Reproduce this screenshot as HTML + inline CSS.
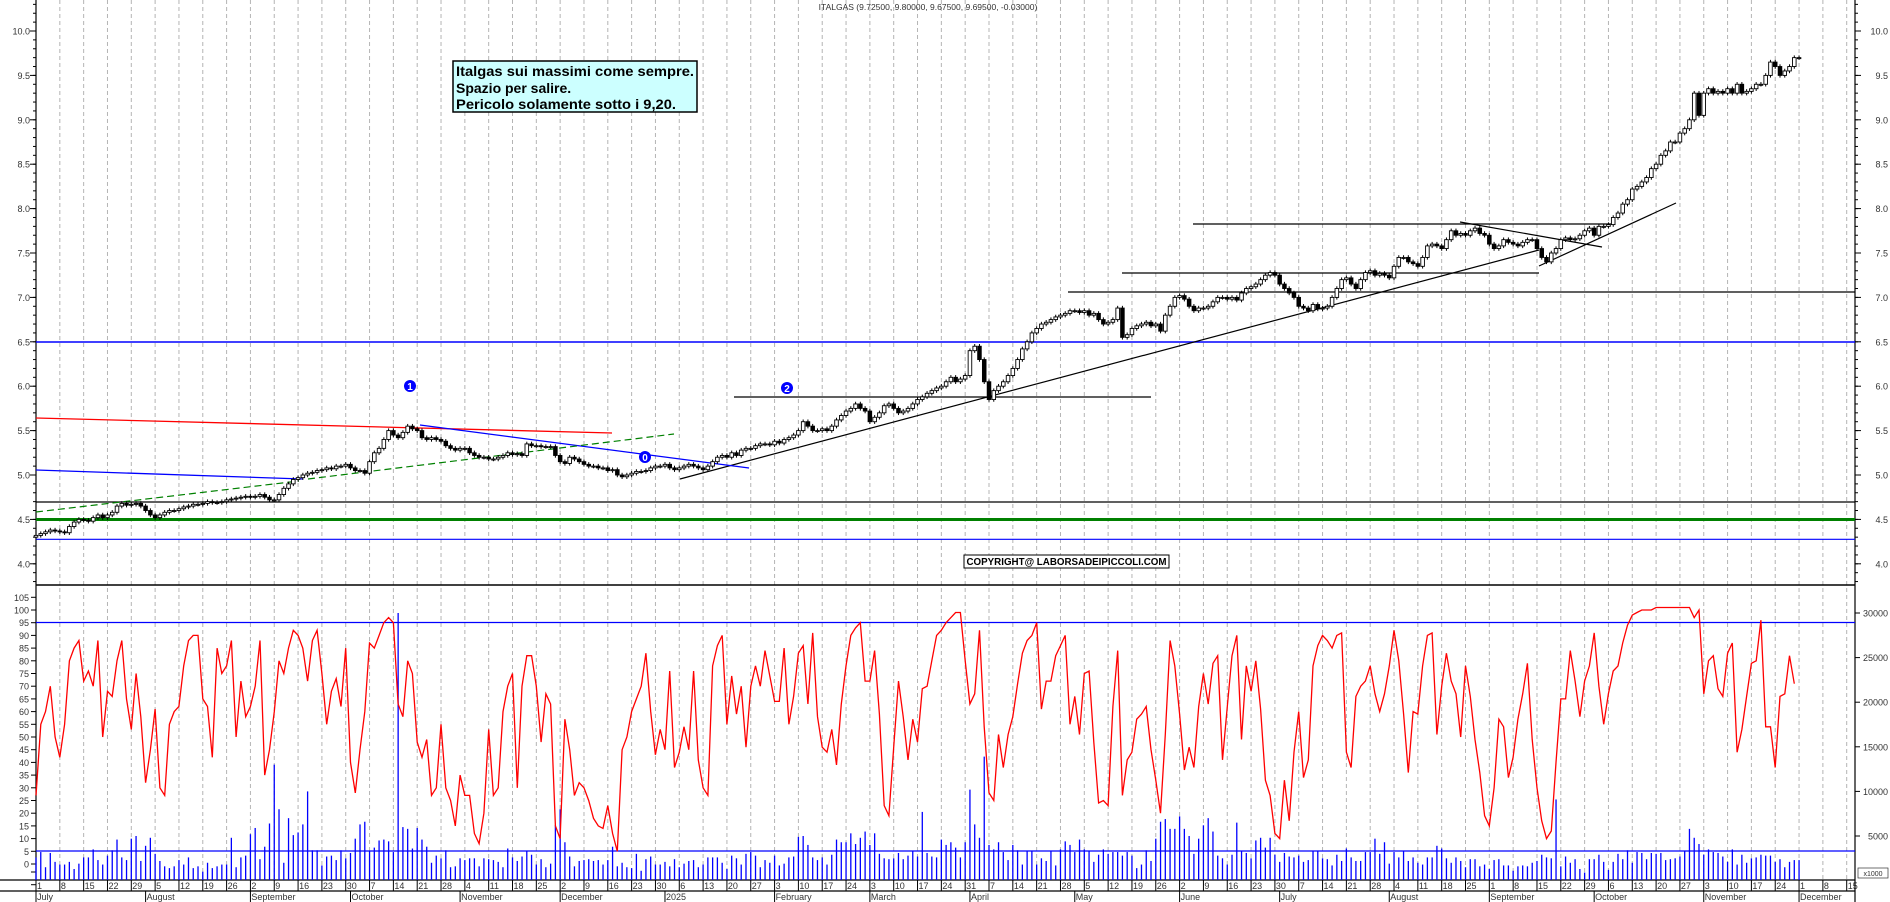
<!DOCTYPE html>
<html><head><meta charset="utf-8"><style>
html,body{margin:0;padding:0;background:#fff;}
svg{display:block;font-family:"Liberation Sans",sans-serif;}
</style></head><body>
<svg id="chart" width="1890" height="902" viewBox="0 0 1890 902" xmlns="http://www.w3.org/2000/svg">
<rect x="0" y="0" width="1890" height="902" fill="#fff"/>
<g id="grid"></g>
<g id="axes"></g>
<g id="annot">
  <line x1="36" y1="342" x2="1855" y2="342" stroke="#0000ff" stroke-width="1.5"/>
  <line x1="36" y1="502" x2="1855" y2="502" stroke="#000" stroke-width="1.2"/>
  <line x1="36" y1="519.5" x2="1855" y2="519.5" stroke="#008000" stroke-width="3"/>
  <line x1="36" y1="539.3" x2="1855" y2="539.3" stroke="#0000ff" stroke-width="1.2"/>
  <line x1="1068" y1="292" x2="1855" y2="292" stroke="#000" stroke-width="1.2"/>
  <line x1="1122" y1="273" x2="1539" y2="273" stroke="#000" stroke-width="1.2"/>
  <line x1="1193" y1="224" x2="1611" y2="224" stroke="#000" stroke-width="1.2"/>
  <line x1="734" y1="397" x2="1151" y2="397" stroke="#000" stroke-width="1.2"/>
  <line x1="680" y1="479" x2="1539" y2="250" stroke="#000" stroke-width="1.2"/>
  <line x1="1539" y1="266" x2="1676" y2="203" stroke="#000" stroke-width="1.2"/>
  <line x1="1460" y1="222" x2="1602" y2="247" stroke="#000" stroke-width="1.2"/>
  <line x1="36" y1="418" x2="612" y2="433" stroke="#ff0000" stroke-width="1.3"/>
  <line x1="36" y1="470" x2="303" y2="479" stroke="#0000ff" stroke-width="1.3"/>
  <line x1="420" y1="425" x2="749" y2="468" stroke="#0000ff" stroke-width="1.3"/>
  <line x1="308" y1="479" x2="674" y2="434" stroke="#008000" stroke-width="1.2" stroke-dasharray="7,4"/>
  <line x1="36" y1="512" x2="299" y2="481" stroke="#008000" stroke-width="1.2" stroke-dasharray="7,4"/>
  <g><circle cx="410" cy="386" r="6" fill="#0000ff"/><text x="410" y="390" font-size="10" font-weight="bold" fill="#fff" text-anchor="middle">1</text></g>
  <g><circle cx="645" cy="457" r="6" fill="#0000ff"/><text x="645" y="461" font-size="10" font-weight="bold" fill="#fff" text-anchor="middle">0</text></g>
  <g><circle cx="787" cy="388" r="6" fill="#0000ff"/><text x="787" y="392" font-size="10" font-weight="bold" fill="#fff" text-anchor="middle">2</text></g>
  <line x1="36" y1="622.5" x2="1855" y2="622.5" stroke="#0000ff" stroke-width="1.3"/>
  <line x1="36" y1="851" x2="1855" y2="851" stroke="#0000ff" stroke-width="1.3"/>
</g>
<g id="vol"></g>
<g id="osc"></g>
<g id="candles"></g>
<g>
  <rect x="453" y="61" width="244" height="51" fill="#ccffff" stroke="#000" stroke-width="1.5"/>
  <text x="456" y="76" font-size="14" font-weight="bold" textLength="238" lengthAdjust="spacingAndGlyphs">Italgas sui massimi come sempre.</text>
  <text x="456" y="93" font-size="14" font-weight="bold">Spazio per salire.</text>
  <text x="456" y="109" font-size="14" font-weight="bold" textLength="220" lengthAdjust="spacingAndGlyphs">Pericolo solamente sotto i 9,20.</text>
</g>
<g>
  <rect x="964" y="555" width="205" height="13" fill="#fff" stroke="#000" stroke-width="1"/>
  <text x="966.5" y="565" font-size="10" font-weight="bold" textLength="200" lengthAdjust="spacingAndGlyphs">COPYRIGHT@ LABORSADEIPICCOLI.COM</text>
</g>
<text x="928" y="10" font-size="8.5" fill="#333" text-anchor="middle">ITALGAS (9.72500, 9.80000, 9.67500, 9.69500, -0.03000)</text>
<g><rect x="1858" y="868" width="30" height="10" fill="#fff" stroke="#333" stroke-width="0.7"/><text x="1873" y="876" font-size="7" text-anchor="middle" fill="#333">x1000</text></g>
</svg>
<script>
// ---- data ----
const closes2024 = [
4.32,4.34,4.36,4.38,4.37, 4.36,4.35,4.42,4.47,4.50, 4.49,4.48,4.52,4.55,4.52, 4.55,4.58,4.65,4.68,4.66,
4.67,4.68,4.65,4.60,4.55, 4.52,4.55,4.58,4.60,4.60, 4.62,4.64,4.65,4.67,4.67, 4.68,4.70,4.69,4.69,4.70,
4.72,4.73,4.74,4.75,4.76, 4.75,4.76,4.78,4.75,4.72, 4.72,4.78,4.85,4.90,4.95, 4.97,5.00,5.02,5.03,5.05,
5.06,5.08,5.07,5.10,5.10, 5.12,5.08,5.05,5.05,5.02, 5.15,5.25,5.30,5.40,5.50, 5.45,5.42,5.48,5.55,5.52,
5.50,5.42,5.40,5.42,5.40, 5.38,5.33,5.30,5.28,5.30, 5.30,5.25,5.22,5.20,5.20, 5.18,5.18,5.20,5.22,5.25,
5.23,5.24,5.22,5.35,5.33, 5.33,5.32,5.32,5.32,5.22, 5.15,5.13,5.20,5.18,5.15, 5.12,5.10,5.10,5.08,5.08,
5.05,5.06,5.00,4.98,5.00, 5.02,5.04,5.04,5.05,5.08, 5.10,5.10,5.12,5.08,5.06];
const closes2025a = [
5.08,5.10,5.12,5.10,5.08, 5.06,5.10,5.15,5.20,5.22, 5.20,5.25,5.22,5.28,5.30, 5.30,5.33,5.35,5.35,5.34,
5.38,5.36,5.40,5.42,5.45, 5.50,5.60,5.55,5.50,5.50, 5.52,5.50,5.55,5.62,5.67, 5.72,5.75,5.80,5.75,5.72,
5.60,5.65,5.70,5.78,5.80, 5.75,5.70,5.72,5.75,5.80, 5.85,5.88,5.92,5.95,5.98, 6.00,6.05,6.10,6.05,6.08,
6.12,6.40,6.45,6.30,6.05, 5.85,5.95,6.00,6.05,6.12, 6.20,6.30,6.42,6.50,6.60, 6.65,6.70,6.72,6.75,6.78,
6.80,6.82,6.85,6.85,6.83, 6.85,6.80,6.82,6.75,6.70, 6.72,6.75,6.88,6.55,6.58, 6.65,6.68,6.70,6.72,6.68,
6.70,6.62,6.80,6.90,7.00, 7.02,6.98,6.90,6.85,6.88, 6.88,6.90,6.95,7.00,7.00, 6.98,7.00,6.97,7.05,7.10,
7.12,7.15,7.20,7.25,7.28, 7.25,7.15,7.10,7.05,7.00];
const closes2025b = [
6.90,6.88,6.85,6.92,6.87, 6.88,6.90,7.00,7.10,7.20, 7.22,7.15,7.10,7.20,7.28, 7.30,7.25,7.27,7.25,7.22,
7.35,7.45,7.45,7.40,7.38, 7.35,7.45,7.58,7.60,7.58, 7.55,7.65,7.75,7.70,7.72, 7.70,7.75,7.78,7.72,7.70,
7.60,7.55,7.58,7.65,7.62, 7.60,7.58,7.62,7.65,7.65, 7.55,7.45,7.40,7.50,7.55, 7.65,7.67,7.65,7.66,7.70,
7.75,7.78,7.70,7.80,7.80, 7.82,7.90,7.95,8.05,8.10, 8.22,8.25,8.30,8.35,8.45, 8.50,8.60,8.65,8.75,8.75,
8.85,8.90,9.00,9.30,9.05, 9.30,9.35,9.30,9.32,9.30, 9.35,9.30,9.40,9.30,9.32, 9.35,9.40,9.40,9.50,9.65,
9.60,9.50,9.55,9.60,9.70, 9.70];
const osc2024 = [
27,55,60,70,50, 42,55,80,85,88, 72,76,70,88,50, 68,66,80,88,65, 53,75,58,32,45, 61,30,27,55,60,
62,78,88,90,90, 65,62,42,85,75, 78,88,50,72,58, 62,70,88,35,45, 60,80,75,85,92, 90,85,72,88,92,
75,55,68,73,62, 85,40,28,45,60, 87,85,90,95,97, 95,63,58,80,75, 48,42,49,27,30, 55,30,25,15,35,
27,27,12,8,20, 53,27,30,60,70, 75,30,70,82,82, 70,48,67,63,15, 10,57,45,27,32, 30,25,18,15,14,
23,12,5,45,50, 60,65,70,83,60, 43,53,45,76,38];
const osc2025a = [
44,54,45,76,41,30,27,78,86,90, 55,74,59,70,46,70,78,70,84,74, 64,64,85,55,66,83,86,63,91,58,
46,44,53,39,63,78,90,93,95,72, 72,84,59,23,19,46,72,58,41,57, 48,69,70,80,90,92,95,97,99,99,
80,63,67,92,54,28,25,51,38,51, 58,71,83,88,90,95,61,72,72,82, 86,90,55,66,51,75,76,48,24,25,
23,62,84,27,41,44,57,59,62,45, 33,20,51,88,78,59,37,46,38,62, 75,63,79,82,41,62,82,90,49,78,
68,80,61,33,27,12,10,33,17,44, 60,34,41,78,86,90,88,85,90];
const osc2025b = [
91,44,38,66,70,72,78,67,60,67, 78,92,80,59,36,60,59,78,90,91, 51,70,83,72,67,50,78,66,49,36,
19,15,30,57,54,34,42,57,67,79,49, 30,17,10,13,40,65,65,84,72,58,72,78, 91,70,55,67,76,78,87,94,98,99,100,
100,100,101,101,101,101,101,101,101,101, 97,100,67,80,82,69,66,83,87,44, 53,66,79,80,96,54,54,38,66,67,82,71];
const vol2024 = [
2.6,3.2,1.5,3.1,2.1, 1.8,1.8,2.1,1.3,1.9, 2.6,2.6,3.5,2.3,1.8, 2.8,3.4,4.6,2.6,2.3, 4.7,5.0,2.2,3.9,4.8,
3.0,2.2,1.6,1.4,1.6, 2.3,1.8,2.6,1.4,1.6, 1.0,2.0,1.4,1.6,1.8, 1.8,4.8,1.5,2.6,2.8, 5.2,5.9,2.4,3.8,6.4,
13.0,8.0,2.0,7.0,5.1, 5.4,6.3,10.0,3.4,3.4, 1.7,2.7,2.8,2.3,3.4, 2.5,3.1,4.7,6.3,6.6, 3.3,3.7,4.5,4.6,4.4,
3.2,30.0,6.0,5.8,3.6, 5.9,4.6,3.8,2.0,2.8, 2.5,3.4,1.5,1.6,2.5, 2.3,2.5,2.5,1.6,2.5, 2.4,2.3,2.1,1.5,3.6,
2.6,2.2,2.7,3.3,2.9, 1.8,2.4,1.5,1.9,6.2, 8.0,4.3,2.7,1.6,2.2, 2.3,2.4,2.2,2.3,1.8, 2.3,3.8,1.6,2.0,1.5,
1.4,3.0,1.1,2.4,2.7, 1.8,1.8,2.1,1.6,2.4];
const vol2025a = [
1.5,1.9,2.2,2.3,1.5, 1.8,2.6,2.6,2.6,2.0, 1.3,2.8,2.5,1.8,3.0, 3.2,2.8,1.5,2.3,2.0, 2.8,1.7,1.9,2.6,2.7,
4.9,5.0,4.0,2.6,2.3, 2.6,1.8,2.9,4.6,4.3, 4.3,5.3,4.1,4.8,5.5, 4.0,5.3,3.0,2.5,2.4, 2.5,3.1,2.4,2.8,3.3,
2.7,7.7,3.1,2.7,2.6, 4.6,4.0,4.3,3.7,2.6, 4.3,10.2,6.3,4.8,13.9, 4.0,3.5,4.3,3.2,2.3, 4.0,3.4,1.8,3.3,3.3,
1.8,2.5,2.2,3.3,1.7, 3.5,4.4,4.0,3.2,4.6, 3.5,3.3,2.1,2.9,3.5, 3.0,3.2,3.2,2.8,3.2, 2.8,1.4,1.8,3.4,2.2,
4.7,6.6,6.9,5.8,5.8, 7.2,5.8,5.0,3.0,4.7, 6.2,7.0,5.5,2.8,2.5, 1.8,2.9,6.5,3.3,3.1, 2.5,4.5,4.8,3.7,4.8,
2.9,2.1,3.1,2.7,2.6, 2.8,2.1,2.3,3.3,3.3];
const vol2025b = [
2.5,2.4,1.7,2.9,2.2, 3.6,2.6,2.2,2.2,3.2, 3.2,4.7,3.0,4.3,1.9, 3.2,2.6,3.3,2.2,2.6, 2.0,1.8,2.6,2.6,3.9,
3.6,2.5,2.0,2.6,2.2, 1.5,2.4,2.4,1.6,1.8, 1.3,2.3,2.4,1.7,1.7, 1.1,1.6,1.7,1.6,2.0, 2.2,2.9,2.6,2.5,9.1,
1.6,2.7,2.0,2.4,1.3, 0.9,2.4,2.4,2.9,2.1, 1.2,2.1,3.0,2.4,3.4, 2.0,3.2,3.1,2.4,3.1, 3.0,3.1,2.3,2.4,2.5,
2.7,3.3,5.8,4.8,4.1, 2.9,3.5,3.2,3.1,2.7, 2.1,3.5,1.8,2.9,2.0, 2.5,2.6,2.9,2.8,2.8, 2.1,2.4,1.5,2.1,2.3, 2.3];
const priceTicks = [4.0,4.5,5.0,5.5,6.0,6.5,7.0,7.5,8.0,8.5,9.0,9.5,10.0];
const oscTicks = [0,5,10,15,20,25,30,35,40,45,50,55,60,65,70,75,80,85,90,95,100,105];
const volTicks = [5000,10000,15000,20000,25000,30000];

// ---- axis functions ----
const X0 = 36, DX = 4.765, PL = 36, PR = 1855;
const xAt = i => X0 + i * DX;
const yPrice = p => 31 + (10 - p) * 88.8;
const yOsc = v => 864 - v * 2.54;
const yVol = v => 880.6 - v * 8.92;
const NS = 'http://www.w3.org/2000/svg';
function mk(tag, attrs, parent) {
  const e = document.createElementNS(NS, tag);
  for (const k in attrs) e.setAttribute(k, attrs[k]);
  parent.appendChild(e); return e;
}
const closes = closes2024.concat(closes2025a, closes2025b);
const osc = osc2024.concat(osc2025a, osc2025b);
const vol = vol2024.concat(vol2025a, vol2025b);
const gGrid = document.getElementById('grid'), gAx = document.getElementById('axes');
const gC = document.getElementById('candles'), gO = document.getElementById('osc'), gV = document.getElementById('vol');

const months = ['January','February','March','April','May','June','July','August','September','October','November','December'];
let d = new Date(2024, 6, 1), idx = 0, lastMonth = -1;
while (true) {
  const wd = d.getDay();
  if (wd !== 0 && wd !== 6) {
    const x = xAt(idx);
    if (x > PR) break;
    if (wd === 1) {
      const gl = mk('line', {x1:x, y1:0, x2:x, y2:880, stroke:'#b4b4b4', 'stroke-width':1, 'stroke-dasharray':'4,3'}, gGrid);
      
      
      const t = mk('text', {x:x+1, y:889, 'font-size':9, fill:'#333'}, gAx);
      t.textContent = d.getDate();
      
      
      mk('line', {x1:x, y1:880, x2:x, y2:891, stroke:'#000', 'stroke-width':1}, gAx);
    }
    if (d.getMonth() !== lastMonth) {
      lastMonth = d.getMonth();
      mk('line', {x1:x, y1:891, x2:x, y2:902, stroke:'#000', 'stroke-width':1}, gAx);
      const t = mk('text', {x:x+1, y:900, 'font-size':9, fill:'#333'}, gAx);
      t.textContent = (d.getMonth() === 0) ? String(d.getFullYear()) : months[d.getMonth()];
      
      
    }
    idx++;
  }
  d.setDate(d.getDate() + 1);
}

mk('line', {x1:PL, y1:0, x2:PL, y2:880, stroke:'#000', 'stroke-width':1.2}, gAx);
mk('line', {x1:PR, y1:0, x2:PR, y2:902, stroke:'#000', 'stroke-width':1.2}, gAx);
mk('line', {x1:PL, y1:585, x2:PR, y2:585, stroke:'#000', 'stroke-width':1.5}, gAx);
mk('line', {x1:0, y1:880, x2:PR, y2:880, stroke:'#000', 'stroke-width':1.2}, gAx);
mk('line', {x1:0, y1:891, x2:PR, y2:891, stroke:'#000', 'stroke-width':1.2}, gAx);

for (let p = 3.8; p <= 10.3; p += 0.1) {
  const y = yPrice(p);
  if (y < 2 || y > 583) continue;
  mk('line', {x1:PL-3, y1:y, x2:PL, y2:y, stroke:'#000'}, gAx);
  mk('line', {x1:PR, y1:y, x2:PR+3, y2:y, stroke:'#000'}, gAx);
}
priceTicks.forEach(p => {
  const y = yPrice(p);
  mk('line', {x1:PL-6, y1:y, x2:PL, y2:y, stroke:'#000'}, gAx);
  mk('line', {x1:PR, y1:y, x2:PR+6, y2:y, stroke:'#000'}, gAx);
  const t = mk('text', {x:PL-6, y:y+3.5, 'font-size':9, fill:'#333', 'text-anchor':'end'}, gAx);
  t.textContent = p.toFixed(1);
  
  
  const t2 = mk('text', {x:PR+33, y:y+3.5, 'font-size':9, fill:'#333', 'text-anchor':'end'}, gAx);
  t2.textContent = p.toFixed(1);
  
  
});
oscTicks.forEach(v => {
  const y = yOsc(v);
  mk('line', {x1:PL-5, y1:y, x2:PL, y2:y, stroke:'#000'}, gAx);
  const t = mk('text', {x:PL-7, y:y+3.5, 'font-size':9, fill:'#333', 'text-anchor':'end'}, gAx);
  t.textContent = v;
  
  
});
[0,-5].forEach(v => { const y = yOsc(v) + 8; mk('line', {x1:PL-5, y1:y, x2:PL, y2:y, stroke:'#000'}, gAx); });
volTicks.forEach(v => {
  const y = yVol(v / 1000);
  mk('line', {x1:PR, y1:y, x2:PR+5, y2:y, stroke:'#000'}, gAx);
  const t = mk('text', {x:PR+33, y:y+3.5, 'font-size':9, fill:'#333', 'text-anchor':'end'}, gAx);
  t.textContent = v;
  
  
});

vol.forEach((v, i) => {
  const x = xAt(i);
  const b = mk('line', {x1:x, y1:880, x2:x, y2:yVol(v), stroke:'#0000ff', 'stroke-width':1.3}, gV);
  
  
});
const pts = osc.map((v, i) => xAt(i).toFixed(1) + ',' + yOsc(v).toFixed(1)).join(' ');
const pl = mk('polyline', {points:pts, fill:'none', stroke:'#ff0000', 'stroke-width':1.3}, gO);



closes.forEach((c, i) => {
  const o = i === 0 ? c - 0.02 : closes[i - 1];
  const hi = Math.max(o, c) + 0.025, lo = Math.min(o, c) - 0.025;
  const x = xAt(i);
  const g = mk('g', {}, gC);
  
  
  mk('line', {x1:x, y1:yPrice(hi), x2:x, y2:yPrice(lo), stroke:'#000', 'stroke-width':1}, g);
  const top = yPrice(Math.max(o, c)), h = Math.max(1, yPrice(Math.min(o, c)) - top);
  mk('rect', {x:x-1.8, y:top, width:3.6, height:h, fill: c >= o ? '#fff' : '#000', stroke:'#000', 'stroke-width':0.9}, g);
});
</script>
</body></html>
